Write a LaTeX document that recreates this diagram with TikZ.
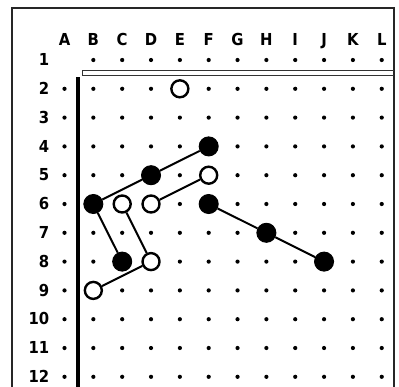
\documentclass[tikz,border=0pt]{standalone}
\usepackage{fontspec}
\setmainfont{DejaVu Sans Condensed}
\begin{document}
\begin{tikzpicture}[x=1pt,y=-1pt,
  lbl/.style={font=\bfseries\fontsize{16.5}{18}\selectfont, inner sep=0pt},
  gdot/.style={circle, fill=black, inner sep=0pt, minimum size=4.2pt},
  bstone/.style={circle, fill=black, draw=black, line width=1pt, inner sep=0pt, minimum size=19pt},
  wstone/.style={circle, fill=white, draw=black, line width=2.4pt, inner sep=0pt, minimum size=17pt},
  link/.style={line width=2pt, black}]
\useasboundingbox (0,0) rectangle (399,386);
\def\cx#1{64.5+28.84*#1}
\def\ry#1{60+28.8*(#1-1)}
% frame
\draw[line width=1.5pt, black!85] (12,390) -- (12,8) -- (394,8) -- (394,390);
% column letters
\foreach \l [count=\i from 0] in {A,B,C,D,E,F,G,H,I,J,K,L}
  \node[lbl, anchor=base] (col\l) at ({\cx{\i}},45.5) {\l};
% row numbers
\foreach \r in {1,...,12}
  \node[lbl, anchor=base east] (row\r) at (49.5,{\ry{\r}+5.6}) {\r};
% dots
\foreach \r in {1,...,12}
  \foreach \i in {0,...,11}{
    \ifnum\r=1 \ifnum\i=0 \else
      \node[gdot] (d\i-\r) at ({\cx{\i}},{\ry{\r}}) {};
    \fi\else
      \node[gdot] (d\i-\r) at ({\cx{\i}},{\ry{\r}}) {};
    \fi}
% board edges
\draw[line width=0.9pt, black!80] (394,70.5) -- (82,70.5) -- (82,75.5) -- (394,75.5);
\fill[black] (76,77) rectangle (80,390);
% stones
\node[bstone] (F4) at ({\cx{5}},{\ry{4}}) {};
\node[bstone] (D5) at ({\cx{3}},{\ry{5}}) {};
\node[bstone] (B6) at ({\cx{1}},{\ry{6}}) {};
\node[bstone] (F6) at ({\cx{5}},{\ry{6}}) {};
\node[bstone] (H7) at ({\cx{7}},{\ry{7}}) {};
\node[bstone] (J8) at ({\cx{9}},{\ry{8}}) {};
\node[bstone] (C8) at ({\cx{2}},{\ry{8}}) {};
\node[wstone] (E2) at ({\cx{4}},{\ry{2}}) {};
\node[wstone] (F5) at ({\cx{5}},{\ry{5}}) {};
\node[wstone] (C6) at ({\cx{2}},{\ry{6}}) {};
\node[wstone] (D6) at ({\cx{3}},{\ry{6}}) {};
\node[wstone] (D8) at ({\cx{3}},{\ry{8}}) {};
\node[wstone] (B9) at ({\cx{1}},{\ry{9}}) {};
% links
\draw[link] (B6) -- (D5) -- (F4);
\draw[link] (B6) -- (C8);
\draw[link] (C6) -- (D8) -- (B9);
\draw[link] (D6) -- (F5);
\draw[link] (F6) -- (H7) -- (J8);
\end{tikzpicture}
\end{document}
